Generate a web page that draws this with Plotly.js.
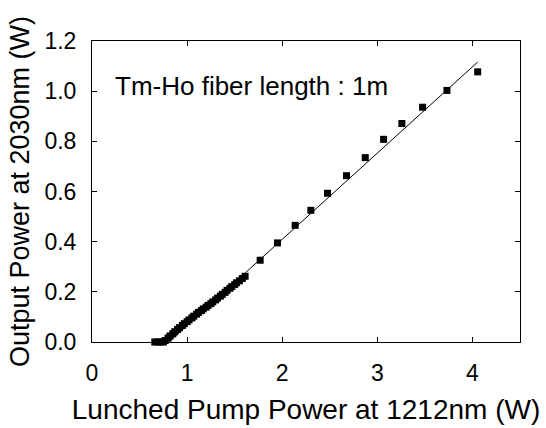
<!DOCTYPE html>
<html>
<head>
<meta charset="utf-8">
<script src="https://cdn.plot.ly/plotly-3.0.1.min.js"></script>
<style>html,body{margin:0;padding:0;background:#fff;}#chart{width:546px;height:428px;}</style>
</head>
<body>
<div id="chart"></div>
<script>
// Measured data: launched pump power (W) vs output power (W)
const pumpPower = [0.66,0.69,0.72,0.75,0.77,0.80,0.82,0.85,0.87,0.90,0.92,0.95,0.97,1.00,1.02,1.05,1.07,1.10,1.12,1.15,1.17,1.20,1.22,1.25,1.27,1.30,1.32,1.35,1.37,1.40,1.42,1.45,1.47,1.50,1.52,1.55,1.58,1.61,
  1.768,1.950,2.136,2.301,2.476,2.676,2.873,3.066,3.258,3.476,3.732,4.055];
const outputPower = [0,0,0,0,0.006,0.016,0.024,0.033,0.041,0.050,0.057,0.066,0.073,0.081,0.088,0.096,0.103,0.111,0.118,0.125,0.132,0.139,0.146,0.153,0.160,0.168,0.175,0.183,0.190,0.198,0.206,0.214,0.221,0.229,0.236,0.244,0.253,0.262,
  0.326,0.395,0.465,0.525,0.593,0.663,0.735,0.808,0.871,0.936,1.003,1.077];
// Linear fit line end points
const fitX = [0.81, 4.055];
const fitY = [0.0, 1.116];
const xTicks = [0,1,2,3,4];
const yTicks = [0,0.2,0.4,0.6,0.8,1.0,1.2];
const annotationText = 'Tm-Ho fiber length : 1m';
const xTitle = 'Lunched Pump Power at 1212nm (W)';
const yTitle = 'Output Power at 2030nm (W)';

const font = 'Arial, "Liberation Sans", sans-serif';

const traces = [
  {x: fitX, y: fitY, mode: 'lines', line: {color: '#000', width: 1}, showlegend: false, hoverinfo: 'skip'},
  {x: pumpPower, y: outputPower, mode: 'markers', marker: {symbol: 'square', size: 7, color: '#000'}, showlegend: false, cliponaxis: false}
];

const axisCommon = {
  showline: true, linecolor: '#000', linewidth: 1, mirror: 'ticks',
  ticks: 'inside', ticklen: 5, tickwidth: 1, tickcolor: '#000',
  showgrid: false, zeroline: false,
  tickfont: {family: font, size: 23, color: '#000'},
  fixedrange: true
};

const layout = {
  width: 546, height: 428,
  margin: {l: 92, r: 26, t: 41, b: 86},
  paper_bgcolor: '#fff', plot_bgcolor: '#fff',
  font: {family: font, color: '#000'},
  xaxis: Object.assign({}, axisCommon, {
    range: [0, 4.5], tickvals: xTicks, ticktext: xTicks.map(String),
    ticklabelstandoff: 10,
    title: {text: xTitle, font: {family: font, size: 28, color: '#000'}, standoff: 14}
  }),
  yaxis: Object.assign({}, axisCommon, {
    range: [0, 1.2], tickvals: yTicks, ticktext: yTicks.map(v => v.toFixed(1)),
    ticklabelstandoff: 10,
    title: {text: yTitle, font: {family: font, size: 27, color: '#000'}, standoff: 6}
  }),
  annotations: [{
    x: 0.22, y: 1.02, xref: 'x', yref: 'y', xanchor: 'left', yanchor: 'middle',
    text: annotationText, showarrow: false,
    font: {family: font, size: 26, color: '#000'}
  }]
};

Plotly.newPlot('chart', traces, layout, {displayModeBar: false, staticPlot: true});
</script>
</body>
</html>
